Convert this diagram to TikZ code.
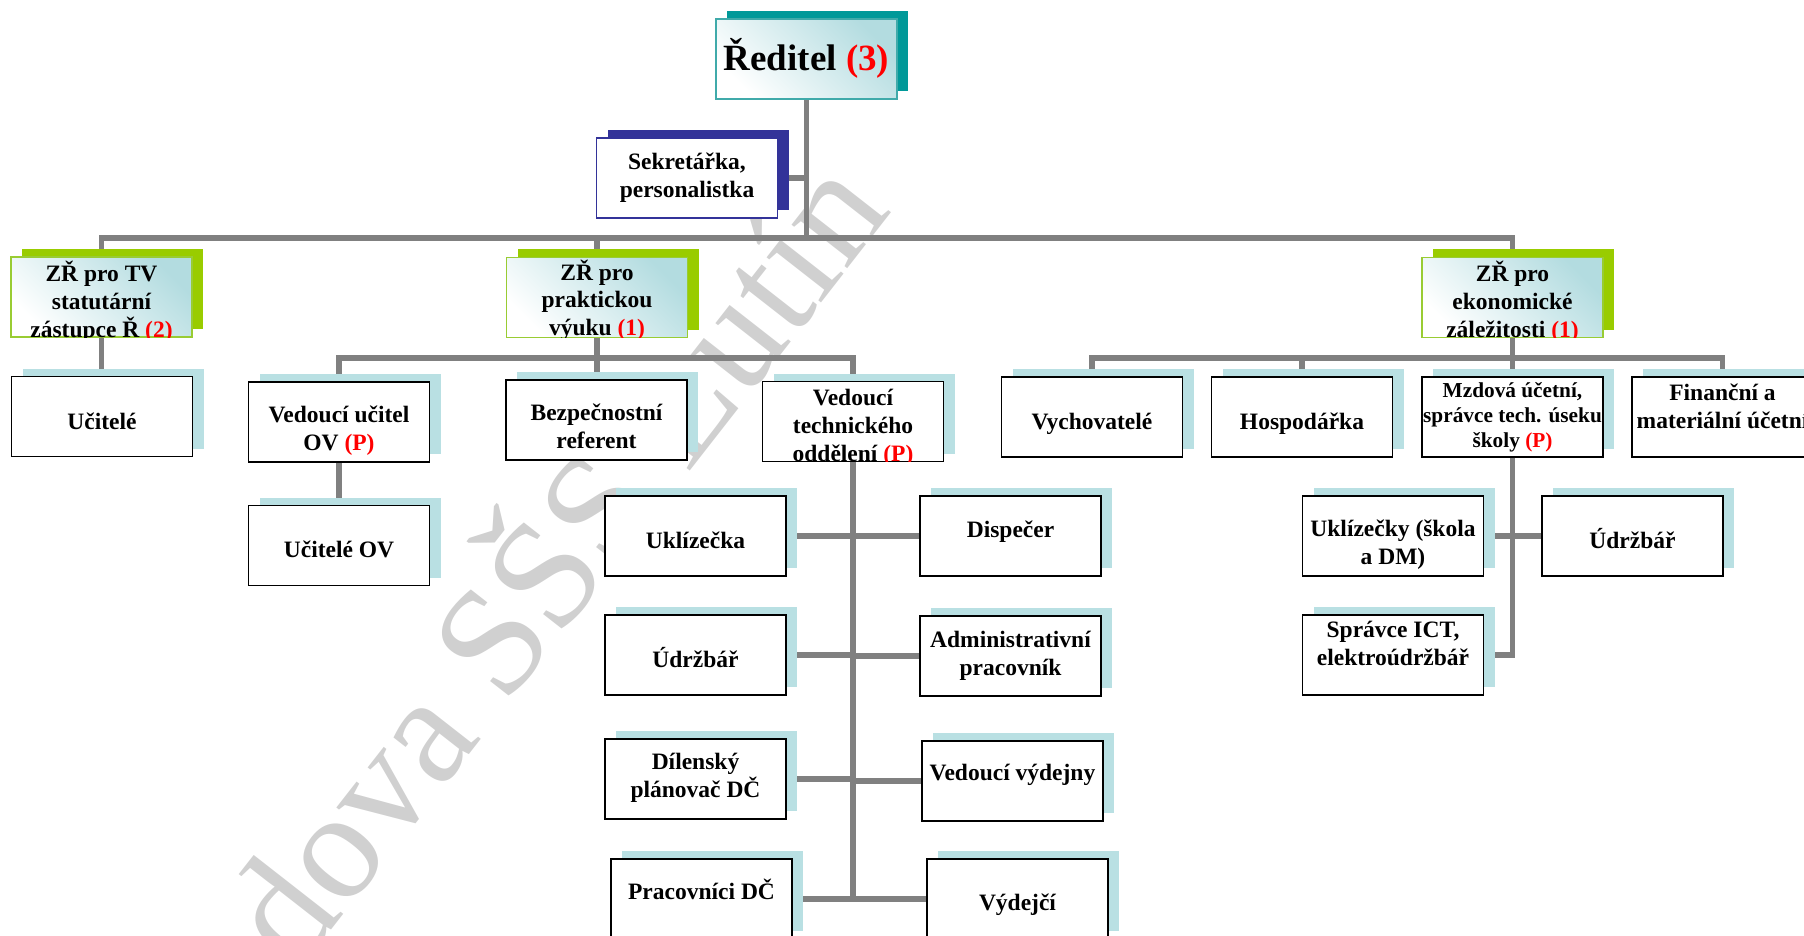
\documentclass[tikz,border=0pt]{standalone}
\usepackage{fontspec}
\setmainfont{Liberation Serif}
\definecolor{conn}{HTML}{808080}
\definecolor{tealsh}{HTML}{009999}
\definecolor{tealbd}{HTML}{40AAAA}
\definecolor{navy}{HTML}{333399}
\definecolor{greensh}{HTML}{99CC00}
\definecolor{greenbd}{HTML}{99CC33}
\definecolor{lbsh}{HTML}{B9E0E3}
\definecolor{gradc}{HTML}{B3DCE0}
\definecolor{wmk}{HTML}{D0D0D0}
\definecolor{redtx}{HTML}{FF0000}
\newcommand\rd[1]{\textcolor{redtx}{#1}}
\newcommand\st{\rule{0pt}{0.9em}}
\pgfdeclarelayer{wm}
\pgfdeclarelayer{lines}
\pgfsetlayers{wm,lines,main}
\tikzset{
  basebox/.style={minimum width=90.5pt, minimum height=40pt, inner sep=0pt, outer sep=0pt, line width=0.9pt},
  wbox/.style={basebox, draw=black, fill=white},
  gbox/.style={basebox, draw=greenbd, top color=gradc, bottom color=white, shading angle=-45},
  tbox/.style={basebox, draw=tealbd, top color=gradc, bottom color=white, shading angle=-45},
  nbox/.style={basebox, draw=navy, fill=white},
  tx/.style={anchor=north, inner sep=0pt, outer sep=0pt, align=center, font=\bfseries\fontsize{11.75}{14}\selectfont},
  txs/.style={tx, font=\bfseries\fontsize{10.65}{12.5}\selectfont},
  txb/.style={tx, font=\bfseries\fontsize{18.5}{22}\selectfont},
  cn/.style={draw=conn, line width=2.75pt},
}
\newcommand\mkbox[5]{%
  \node[basebox, fill=#3] (#1s) at ({#4+11},{#5-8}) {};
  \node[#2] (#1) at (#4,#5) {};
}
\begin{document}
\begin{tikzpicture}[x=0.5pt, y=-0.5pt]
\useasboundingbox (0,0) rectangle (1804,936);
\clip (0,0) rectangle (1804,936);

% watermark
\begin{pgfonlayer}{wm}
\clip (0,0) rectangle (1804,936);
\node[text=wmk, font=\fontsize{77}{80}\selectfont, rotate=52, inner sep=0pt] (wmark) at (544,552) {dova SŠS Lutín};
\end{pgfonlayer}

% boxes
\mkbox{red}{tbox}{tealsh}{806.5}{59}
\mkbox{sek}{nbox}{navy}{687}{178}
\mkbox{zrtv}{gbox}{greensh}{101.5}{297}
\mkbox{zrpv}{gbox}{greensh}{597}{297.5}
\mkbox{zrek}{gbox}{greensh}{1512.5}{297.5}
\mkbox{ucit}{wbox}{lbsh}{102}{416.5}
\mkbox{vuov}{wbox}{lbsh}{339}{422}
\mkbox{bezp}{wbox}{lbsh}{596.5}{420}
\mkbox{vto}{wbox}{lbsh}{853}{421.5}
\mkbox{ucov}{wbox}{lbsh}{339}{545.5}
\mkbox{vych}{wbox}{lbsh}{1092}{417}
\mkbox{hosp}{wbox}{lbsh}{1302}{417}
\mkbox{mzd}{wbox}{lbsh}{1512.5}{417}
\mkbox{fin}{wbox}{lbsh}{1722.5}{417}
\mkbox{ukl}{wbox}{lbsh}{695.5}{536}
\mkbox{disp}{wbox}{lbsh}{1010.5}{536}
\mkbox{udr}{wbox}{lbsh}{695.5}{655}
\mkbox{adm}{wbox}{lbsh}{1010.5}{656}
\mkbox{dil}{wbox}{lbsh}{695.5}{779}
\mkbox{vyd}{wbox}{lbsh}{1012.5}{781}
\mkbox{prac}{wbox}{lbsh}{701.5}{899}
\mkbox{vydc}{wbox}{lbsh}{1017.5}{899}
\mkbox{uklb}{wbox}{lbsh}{1393}{536}
\mkbox{udrb}{wbox}{lbsh}{1632.5}{536}
\mkbox{spr}{wbox}{lbsh}{1393}{655}

% texts
\node[txb] (redT) at (806.5,37.7) {\st Ředitel \rd{(3)}};
\node[tx] (sekT) at (687,148.85) {\st Sekretářka,\\personalistka};
\begin{scope}
\clip (zrtv.south west) rectangle (zrtv.north east);
\node[tx] (zrtvT) at (101.5,259.85) {\st ZŘ pro TV\\statutární\\zástupce Ř \rd{(2)}};
\end{scope}
\begin{scope}
\clip (zrpv.south west) rectangle (zrpv.north east);
\node[tx] (zrpvT) at (597,258.85) {\st ZŘ pro\\praktickou\\výuku \rd{(1)}};
\end{scope}
\begin{scope}
\clip (zrek.south west) rectangle (zrek.north east);
\node[tx] (zrekT) at (1512.5,259.85) {\st ZŘ pro\\ekonomické\\záležitosti \rd{(1)}};
\end{scope}
\begin{scope}
\clip (vto.south west) rectangle (vto.north east);
\node[tx] (vtoT) at (853,383.85) {\st Vedoucí\\technického\\oddělení \rd{(P)}};
\end{scope}
\node[tx] (ucitT) at (102,407.85) {\st Učitelé};
\node[tx] (vuovT) at (339,400.85) {\st Vedoucí učitel\\OV \rd{(P)}};
\node[tx] (bezpT) at (596.5,398.85) {\st Bezpečnostní\\referent};
\node[tx] (ucovT) at (339,535.85) {\st Učitelé OV};
\node[tx] (vychT) at (1092,407.85) {\st Vychovatelé};
\node[tx] (hospT) at (1302,407.85) {\st Hospodářka};
\node[txs] (mzdT) at (1512.5,378.8) {\st Mzdová účetní,\\správce tech. úseku\\školy \rd{(P)}};
\node[tx] (finT) at (1722.5,378.85) {\st Finanční a\\materiální účetní};
\node[tx] (uklT) at (695.5,526.85) {\st Uklízečka};
\node[tx] (dispT) at (1010.5,515.85) {\st Dispečer};
\node[tx] (udrT) at (695.5,645.85) {\st Údržbář};
\node[tx] (admT) at (1010.5,625.85) {\st Administrativní\\pracovník};
\node[tx] (dilT) at (695.5,747.85) {\st Dílenský\\plánovač DČ};
\node[tx] (vydT) at (1012.5,758.85) {\st Vedoucí výdejny};
\node[tx] (pracT) at (701.5,877.85) {\st Pracovníci DČ};
\node[tx] (vydcT) at (1017.5,888.85) {\st Výdejčí};
\node[tx] (uklbT) at (1393,514.85) {\st Uklízečky (škola\\a DM)};
\node[tx] (udrbT) at (1632.5,526.85) {\st Údržbář};
\node[tx] (sprT) at (1393,615.85) {\st Správce ICT,\\elektroúdržbář};

% connectors
\begin{pgfonlayer}{lines}
\coordinate (bus1) at (806.5,238);
\coordinate (bus2) at (597,358);
\coordinate (bus3) at (1512.5,358);
\draw[cn] (red.center) -- (bus1);
\draw[cn] (zrtv.center) |- (bus1);
\draw[cn] (zrek.center) |- (bus1);
\draw[cn] (zrpv.center) -- (zrpv.center |- bus1);
\draw[cn] (sek.center) -- (sek.center -| red.center);
\draw[cn] (zrtv.center) -- (zrtv.center |- ucit.center);
\draw[cn] (vuov.center) |- (bus2);
\draw[cn] (vto.center) |- (bus2);
\draw[cn] (zrpv.center) -- (zrpv.center |- bezp.center);
\draw[cn] (vuov.center) -- (vuov.center |- ucov.center);
\draw[cn] (vto.center) -- (vto.center |- prac.center);
\foreach \n in {ukl,udr,dil,prac,disp,adm,vyd,vydc}
  \draw[cn] (\n.center) -- (\n.center -| vto.center);
\foreach \n in {vych,hosp,fin}
  \draw[cn] (\n.center) |- (bus3);
\draw[cn] (zrek.center) -- (zrek.center |- mzd.center);
\draw[cn] (mzd.center) |- (spr.center);
\draw[cn] (uklb.center) -- (udrb.center);
\end{pgfonlayer}
\end{tikzpicture}
\end{document}
